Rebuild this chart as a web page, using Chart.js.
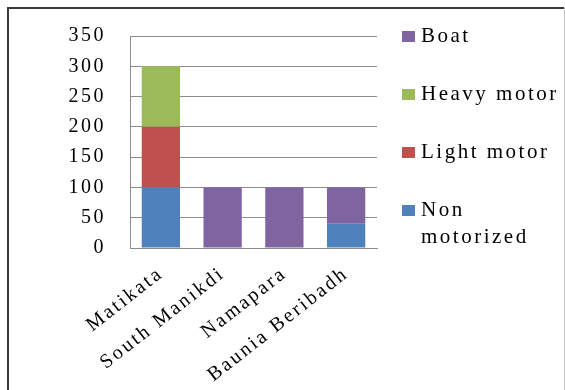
<!DOCTYPE html>
<html>
<head>
<meta charset="utf-8">
<script src="https://cdn.jsdelivr.net/npm/chart.js@4/dist/chart.umd.min.js"></script>
<style>
  html, body { margin: 0; padding: 0; background: #fff; }
  #wrap { width: 565px; height: 390px; }
</style>
</head>
<body>
<div id="wrap"><canvas id="transportChart" width="565" height="390"></canvas></div>
<script>
// villages and transport counts
const villages = ["Matikata", "South Manikdi", "Namapara", "Baunia Beribadh"];
const nonMotorized = [100, 0, 0, 40];
const lightMotor = [100, 0, 0, 0];
const heavyMotor = [100, 0, 0, 0];
const boat = [0, 100, 100, 60];
const yTicks = [0, 50, 100, 150, 200, 250, 300, 350];

const FONT = "'Liberation Serif', 'Times New Roman', serif";
const SPACING = "2.5px";

// canvas resets its state on resize, so spacing is set again before layout and draw
const letterSpacing = {
    id: "letterSpacing",
    beforeLayout(chart) { chart.ctx.letterSpacing = SPACING; },
    beforeDraw(chart) { chart.ctx.letterSpacing = SPACING; },
};

// frame around the figure
const frame = {
    id: "frame",
    afterDraw(chart) {
        const ctx = chart.ctx;
        ctx.save();
        ctx.strokeStyle = "#3a3a3a";
        ctx.lineWidth = 2;
        ctx.beginPath();
        ctx.moveTo(8, 390);
        ctx.lineTo(8, 8);
        ctx.lineTo(564, 8);
        ctx.stroke();
        ctx.strokeStyle = "#c8c8c8";
        ctx.lineWidth = 1;
        ctx.beginPath();
        ctx.moveTo(564.5, 8);
        ctx.lineTo(564.5, 390);
        ctx.stroke();
        ctx.restore();
    },
};

// legend on the right, last series first, long names wrapped
const sideLegend = {
    id: "sideLegend",
    afterDraw(chart) {
        const ctx = chart.ctx;
        const boxX = 402, textX = 421, top = 36, step = 58, lineH = 27;
        const maxW = chart.width - textX;
        ctx.save();
        ctx.letterSpacing = SPACING;
        ctx.font = "21px " + FONT;
        ctx.textBaseline = "middle";
        ctx.fillStyle = "#000";
        const items = chart.data.datasets.slice().reverse();
        items.forEach((ds, i) => {
            const y = top + i * step;
            ctx.fillStyle = ds.backgroundColor;
            ctx.fillRect(boxX, y - 5, 13, 11);
            ctx.fillStyle = "#000";
            const lines = [];
            let cur = "";
            ds.label.split(" ").forEach(w => {
                const test = cur ? cur + " " + w : w;
                if (cur && ctx.measureText(test).width > maxW) {
                    lines.push(cur);
                    cur = w;
                } else {
                    cur = test;
                }
            });
            lines.push(cur);
            lines.forEach((ln, j) => ctx.fillText(ln, textX, y + j * lineH));
        });
        ctx.restore();
    },
};

new Chart(document.getElementById("transportChart"), {
    type: "bar",
    data: {
        labels: villages,
        datasets: [
            { label: "Non motorized", data: nonMotorized, backgroundColor: "#4F81BD" },
            { label: "Light motor", data: lightMotor, backgroundColor: "#C0504D" },
            { label: "Heavy motor", data: heavyMotor, backgroundColor: "#9BBB59" },
            { label: "Boat", data: boat, backgroundColor: "#8064A2" },
        ],
    },
    plugins: [letterSpacing, frame, sideLegend],
    options: {
        responsive: false,
        animation: false,
        events: [],
        datasets: {
            bar: { categoryPercentage: 1, barPercentage: 0.62 },
        },
        layout: { padding: { left: 0, top: 35, right: 188, bottom: 0 } },
        plugins: {
            legend: { display: false },
            tooltip: { enabled: false },
        },
        scales: {
            x: {
                stacked: true,
                grid: { display: false, drawTicks: false },
                border: { display: true, color: "#8c8c8c", width: 1 },
                ticks: {
                    color: "#000",
                    font: { family: FONT, size: 20 },
                    minRotation: 38,
                    maxRotation: 38,
                    autoSkip: false,
                    padding: 14,
                },
                afterFit(scale) { scale.height = 142; },
            },
            y: {
                stacked: true,
                min: 0,
                max: 350,
                afterBuildTicks(scale) { scale.ticks = yTicks.map(v => ({ value: v })); },
                grid: { color: "#8c8c8c", lineWidth: 1, drawTicks: false },
                border: { display: true, color: "#8c8c8c", width: 1 },
                ticks: {
                    color: "#000",
                    font: { family: FONT, size: 20 },
                    padding: 24,
                },
                afterFit(scale) { scale.width = 130; },
            },
        },
    },
});
</script>
</body>
</html>
